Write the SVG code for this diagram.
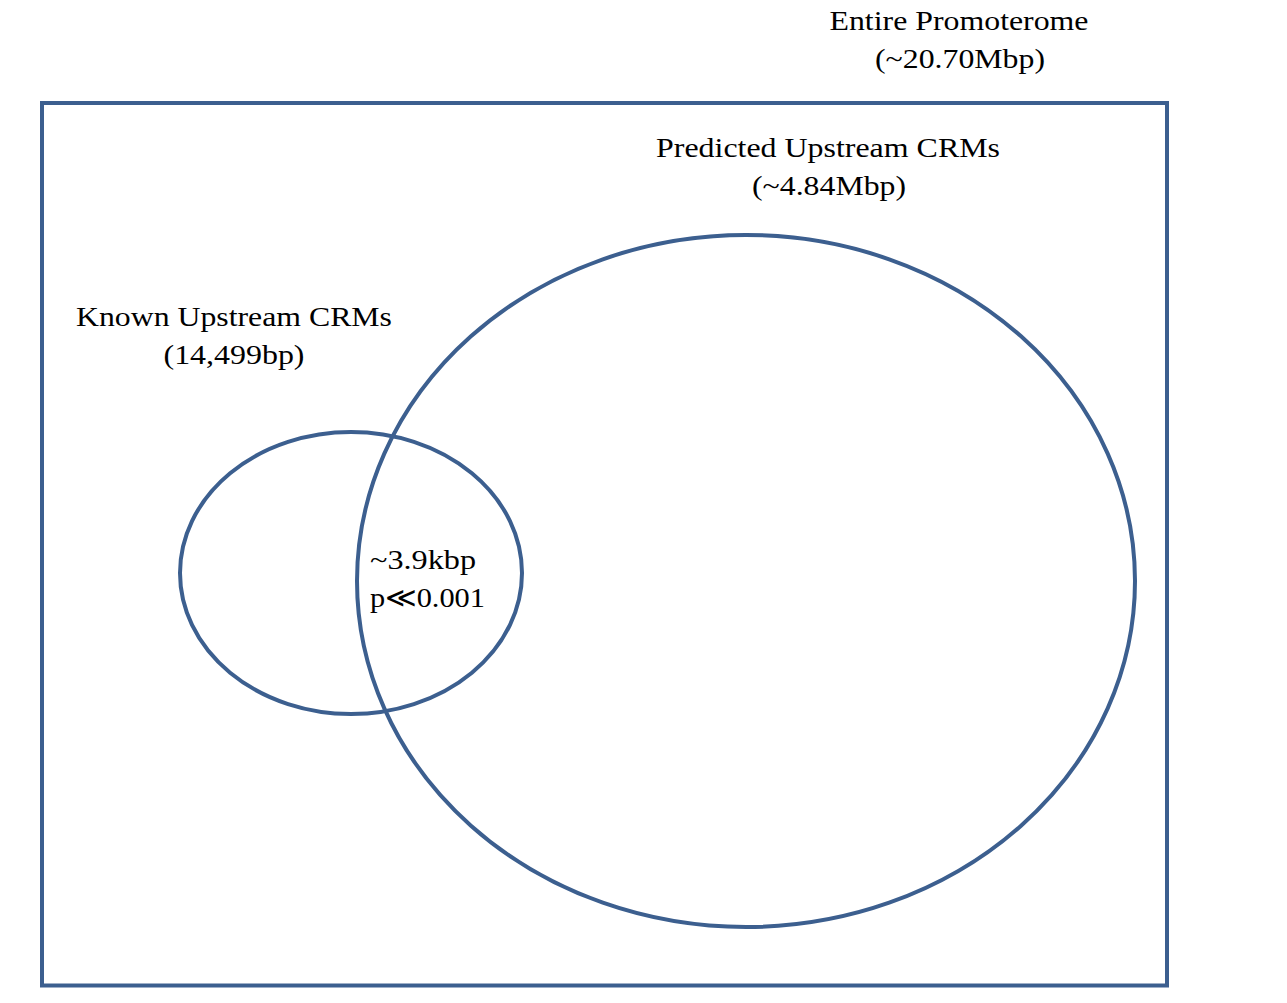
<svg xmlns="http://www.w3.org/2000/svg" width="1287" height="1003" viewBox="0 0 1287 1003">
<style>
.s{fill:none;stroke:#3c5f8f;stroke-width:4}
text{font-family:"Liberation Serif","Times New Roman",serif;font-size:28px;fill:#000}
.c{text-anchor:middle}
</style>
<rect width="1287" height="1003" fill="#fff"/>
<g id="promoterome">
<rect class="s" x="42" y="103" width="1125" height="882.5"/>
<text class="c" x="959" y="30" textLength="259" lengthAdjust="spacingAndGlyphs">Entire Promoterome</text>
<text class="c" x="960" y="68" textLength="170" lengthAdjust="spacingAndGlyphs">(~20.70Mbp)</text>
</g>
<g id="predicted">
<ellipse class="s" cx="746" cy="581" rx="389" ry="346"/>
<text class="c" x="828" y="157" textLength="344" lengthAdjust="spacingAndGlyphs">Predicted Upstream CRMs</text>
<text class="c" x="829" y="195" textLength="154" lengthAdjust="spacingAndGlyphs">(~4.84Mbp)</text>
</g>
<g id="known">
<ellipse class="s" cx="351" cy="573" rx="171" ry="141"/>
<text class="c" x="234" y="326" textLength="316" lengthAdjust="spacingAndGlyphs">Known Upstream CRMs</text>
<text class="c" x="234" y="364" textLength="141" lengthAdjust="spacingAndGlyphs">(14,499bp)</text>
</g>
<g id="overlap">
<text x="370" y="569" textLength="106" lengthAdjust="spacingAndGlyphs">~3.9kbp</text>
<text x="370" y="607" textLength="115" lengthAdjust="spacingAndGlyphs">p≪0.001</text>
</g>
<g id="connectors"/>
</svg>
